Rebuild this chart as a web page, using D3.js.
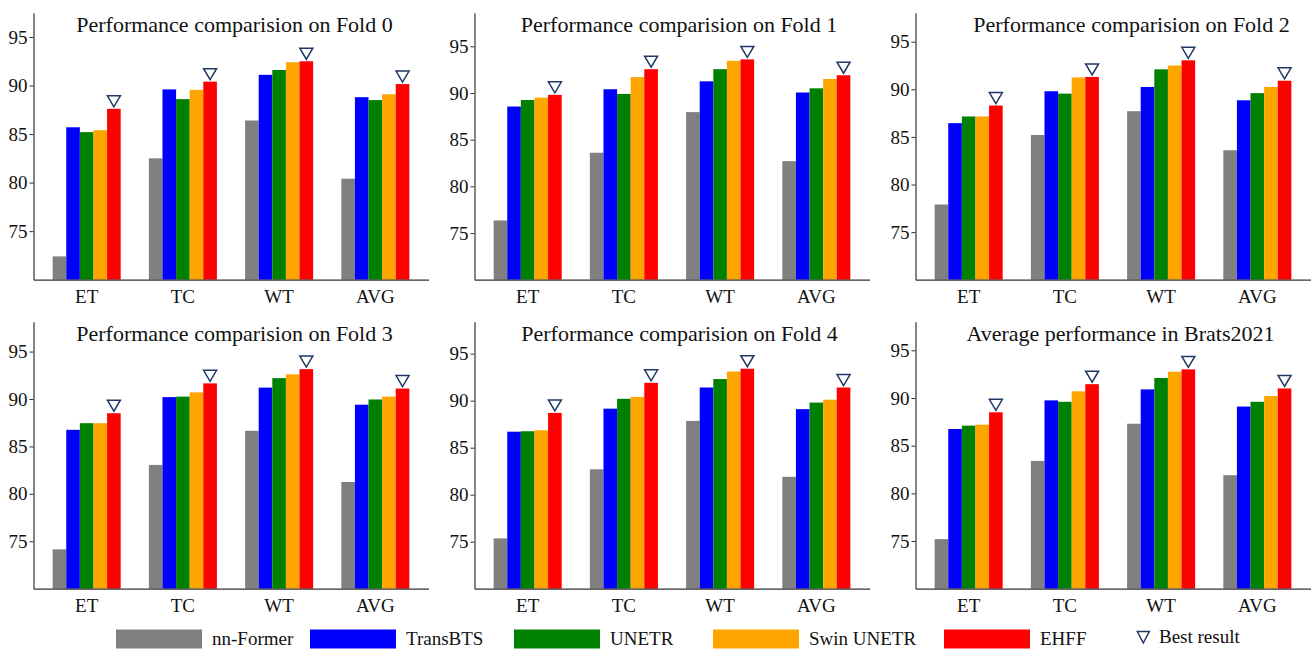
<!DOCTYPE html>
<html>
<head>
<meta charset="utf-8">
<script src="https://cdn.jsdelivr.net/npm/d3@7"></script>
<style>
  body { margin: 0; background: #fff; }
  svg text { font-family: "Liberation Serif", "Tinos", "Times New Roman", Times, "DejaVu Serif", serif !important; }
</style>
</head>
<body>
<svg id="chart" width="1311" height="651"></svg>
<script>
// models (legend order) and categories on the x axis
const models = ["nn-Former", "TransBTS", "UNETR", "Swin UNETR", "EHFF"];
const colors = ["#808080", "#0000ff", "#008000", "#ffa500", "#ff0000"];
const categories = ["ET", "TC", "WT", "AVG"];
const yTicks = [75, 80, 85, 90, 95];

const titles = [
  "Performance comparision on Fold 0",
  "Performance comparision on Fold 1",
  "Performance comparision on Fold 2",
  "Performance comparision on Fold 3",
  "Performance comparision on Fold 4",
  "Average performance in Brats2021"
];

// one row per model, one value per category (ET, TC, WT, AVG)
const fold0 = [
  [72.4, 82.5, 86.4, 80.4],
  [85.7, 89.6, 91.1, 88.8],
  [85.2, 88.6, 91.6, 88.5],
  [85.4, 89.55, 92.4, 89.1],
  [87.6, 90.4, 92.5, 90.15]
];
const fold1 = [
  [76.35, 83.6, 87.95, 82.7],
  [88.55, 90.4, 91.25, 90.05],
  [89.25, 89.9, 92.55, 90.5],
  [89.5, 91.7, 93.45, 91.5],
  [89.8, 92.55, 93.6, 91.9]
];
const fold2 = [
  [77.9, 85.2, 87.7, 83.6],
  [86.45, 89.8, 90.25, 88.85],
  [87.15, 89.55, 92.1, 89.6],
  [87.15, 91.25, 92.5, 90.25],
  [88.3, 91.3, 93.05, 90.9]
];
const fold3 = [
  [74.15, 83.05, 86.65, 81.25],
  [86.75, 90.2, 91.2, 89.4],
  [87.45, 90.25, 92.2, 89.95],
  [87.45, 90.7, 92.6, 90.25],
  [88.5, 91.65, 93.15, 91.1]
];
const fold4 = [
  [75.35, 82.7, 87.85, 81.9],
  [86.7, 89.15, 91.4, 89.1],
  [86.75, 90.2, 92.3, 89.8],
  [86.85, 90.4, 93.1, 90.1],
  [88.7, 91.9, 93.4, 91.4]
];
const average = [
  [75.2, 83.4, 87.3, 81.9],
  [86.75, 89.75, 90.9, 89.1],
  [87.1, 89.6, 92.1, 89.6],
  [87.2, 90.7, 92.75, 90.2],
  [88.5, 91.45, 93.0, 91.0]
];
const panels = [fold0, fold1, fold2, fold3, fold4, average];

// layout
const colLeft = [33.5, 474.5, 915.5];
const rowTop = [12.7, 321.7];
const plotW = 395, plotH = 267;
const titleX = [201, 204.5, 216, 201, 205, 205];
const legendX = [116, 310, 514, 713, 944];
const ink = "#333";

const svg = d3.select("#chart");

panels.forEach((vals, p) => {
  const g = svg.append("g")
    .attr("transform", `translate(${colLeft[p % 3]},${rowTop[Math.floor(p / 3)]})`);

  const top = d3.max(vals.flat()) + 5;
  const y = d3.scaleLinear().domain([70, top]).range([plotH, 0]);
  const x0 = d3.scaleBand().domain(categories).range([0, plotW])
    .paddingInner(0.293).paddingOuter(0.199);
  const x1 = d3.scaleBand().domain(d3.range(models.length)).range([0, x0.bandwidth()]);

  // bars
  categories.forEach((c, ci) => {
    g.append("g")
      .attr("transform", `translate(${x0(c)},0)`)
      .selectAll("rect")
      .data(models.map((m, mi) => ({ mi, v: vals[mi][ci] })))
      .join("rect")
        .attr("x", d => x1(d.mi))
        .attr("width", x1.bandwidth())
        .attr("y", d => y(d.v))
        .attr("height", d => plotH - y(d.v))
        .attr("fill", d => colors[d.mi]);

    // best result marker
    const best = d3.maxIndex(vals, row => row[ci]);
    const cx = x0(c) + x1(best) + x1.bandwidth() / 2;
    const tip = y(vals[best][ci]) - 2;
    g.append("path")
      .attr("d", `M${cx},${tip} L${cx - 6.5},${tip - 11} L${cx + 6.5},${tip - 11} Z`)
      .attr("fill", "none")
      .attr("stroke", "#1f3864")
      .attr("stroke-width", 1.5);
  });

  // y axis
  const ya = g.append("g")
    .call(d3.axisLeft(y).tickValues(yTicks).tickSize(4).tickPadding(2).tickSizeOuter(0));
  ya.select(".domain").attr("stroke", ink).attr("stroke-width", 1.2);
  ya.selectAll(".tick line").attr("stroke", ink);
  ya.selectAll(".tick text").attr("font-size", 19).attr("fill", "#111");

  // x axis
  const xa = g.append("g")
    .attr("transform", `translate(0,${plotH})`)
    .call(d3.axisBottom(x0).tickSize(0).tickPadding(10).tickSizeOuter(0));
  xa.select(".domain").attr("stroke", ink).attr("stroke-width", 1.2);
  xa.selectAll(".tick text").attr("font-size", 19).attr("fill", "#111");

  // title
  g.append("text")
    .attr("x", titleX[p])
    .attr("y", 19.6)
    .attr("text-anchor", "middle")
    .attr("font-size", 22)
    .attr("fill", "#111")
    .text(titles[p]);
});

// legend
const lg = svg.append("g");
models.forEach((m, i) => {
  lg.append("rect")
    .attr("x", legendX[i]).attr("y", 629.5)
    .attr("width", 86).attr("height", 19)
    .attr("fill", colors[i]);
  lg.append("text")
    .attr("x", legendX[i] + 96).attr("y", 645)
    .attr("font-size", 19).attr("fill", "#111")
    .text(m);
});
lg.append("path")
  .attr("d", "M1143.3,643 L1137.3,631.5 L1149.3,631.5 Z")
  .attr("fill", "none").attr("stroke", "#1f3864").attr("stroke-width", 1.5);
lg.append("text")
  .attr("x", 1159).attr("y", 643)
  .attr("font-size", 19).attr("fill", "#111")
  .text("Best result");
</script>
</body>
</html>
